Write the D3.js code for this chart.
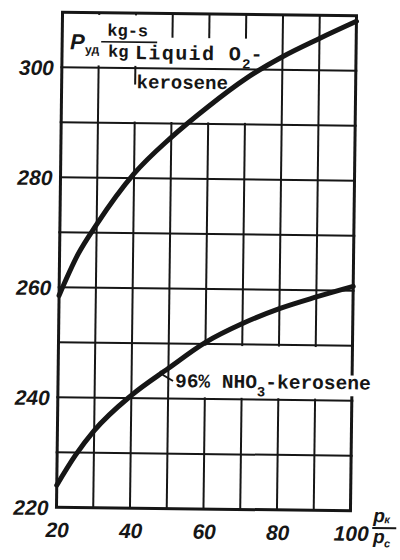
<!DOCTYPE html>
<html>
<head>
<meta charset="utf-8">
<script src="https://cdn.jsdelivr.net/npm/d3@7"></script>
<style>
  html, body { margin: 0; padding: 0; background: #fff; }
  svg { display: block; }
</style>
</head>
<body>
<div id="chart"></div>
<script>
// ---- data ----
const pressureRatio = [20, 25, 30, 40, 50, 60, 70, 80, 90, 100];
const o2Kerosene   = [258.5, 266, 271.5, 280.8, 287.5, 293.2, 298.3, 302.4, 305.8, 309];
const hno3Kerosene = [224, 229.5, 234, 240.5, 245.5, 250.3, 253.8, 256.6, 258.8, 260.8];
const xTicks = [20, 40, 60, 80, 100];
const yTicks = [220, 240, 260, 280, 300];
const xGrid = [20, 30, 40, 50, 60, 70, 80, 90, 100];
const yGrid = [220, 230, 240, 250, 260, 270, 280, 290, 300, 310];
const seriesLabels = ["Liquid O", "2", "-", "kerosene", "96% NHO", "3", "-kerosene"];

const W = 400, H = 560;
const svg = d3.select("#chart").append("svg").attr("width", W).attr("height", H);
svg.append("rect").attr("width", W).attr("height", H).attr("fill", "#fff");

const x = d3.scaleLinear().domain([20, 100]).range([59.5, 353.5]);
const y = d3.scaleLinear().domain([220, 310]).range([509, 14]);

const ink = "#161616";
// whole scan is slightly rotated
const g = svg.append("g").attr("transform", "rotate(0.7,206,261)");

// vertical grid lines
g.append("g").selectAll("line").data(xGrid).join("line")
  .attr("x1", d => x(d)).attr("x2", d => x(d))
  .attr("y1", y(310)).attr("y2", y(220))
  .attr("stroke", ink)
  .attr("stroke-width", d => (d === 20 || d === 100) ? 3 : 2);

// white patches behind label texts (grid interrupted in the original)
const masks = [
  {x0: 20.6, x1: 48, y0: 300.4, y1: 309.6},
  {x0: 45, x1: 77, y0: 290.3, y1: 305.6},
  {x0: 38.6, x1: 45, y0: 290.3, y1: 297},
  {x0: 52, x1: 99.4, y0: 240.3, y1: 249.7},
  {x0: 99.4, x1: 104, y0: 240.8, y1: 244.6}
];
g.append("g").selectAll("rect").data(masks).join("rect")
  .attr("x", d => x(d.x0)).attr("width", d => x(d.x1) - x(d.x0))
  .attr("y", d => y(d.y1)).attr("height", d => y(d.y0) - y(d.y1))
  .attr("fill", "#fff");

// horizontal grid lines
g.append("g").selectAll("line").data(yGrid).join("line")
  .attr("x1", x(20) - 1.5).attr("x2", x(100) + 1.5)
  .attr("y1", d => y(d)).attr("y2", d => y(d))
  .attr("stroke", ink)
  .attr("stroke-width", d => (d === 220 || d === 310) ? 3 : 2);

// curves
const line = d3.line().x((d, i) => x(pressureRatio[i])).y(d => y(d)).curve(d3.curveMonotoneX);
[o2Kerosene, hno3Kerosene].forEach(s => {
  g.append("path").attr("d", line(s)).attr("fill", "none")
    .attr("stroke", ink).attr("stroke-width", 5).attr("stroke-linecap", "round");
});

// tick labels
const tickFont = "'Liberation Sans', Arial, sans-serif";
g.append("g").selectAll("text").data(yTicks).join("text")
  .attr("x", x(20) - 8).attr("y", d => y(d) + 8)
  .attr("text-anchor", "end")
  .attr("font-family", tickFont).attr("font-style", "italic").attr("font-weight", "bold")
  .attr("font-size", 21).attr("fill", ink)
  .text(d => d);
g.append("g").selectAll("text").data(xTicks).join("text")
  .attr("x", d => x(d) + 1).attr("y", y(220) + 30)
  .attr("text-anchor", "middle")
  .attr("font-family", tickFont).attr("font-style", "italic").attr("font-weight", "bold")
  .attr("font-size", 21).attr("fill", ink)
  .text(d => d);

// y axis title: P_уд  kg-s / kg
const yt = g.append("g").attr("fill", ink).attr("font-family", tickFont);
yt.append("text").attr("x", x(20) + 8).attr("y", y(310) + 37)
  .attr("font-style", "italic").attr("font-weight", "bold").attr("font-size", 22)
  .text("P");
yt.append("text").attr("x", x(20) + 23).attr("y", y(310) + 41)
  .attr("font-weight", "bold").attr("font-size", 12)
  .text("уд");
const mono = "'Liberation Mono', 'DejaVu Sans Mono', monospace";
yt.append("text").attr("x", x(20) + 45).attr("y", y(310) + 23)
  .attr("font-family", mono).attr("font-weight", "bold").attr("font-size", 17)
  .text("kg-s");
yt.append("line").attr("x1", x(20) + 39).attr("x2", x(20) + 95)
  .attr("y1", y(310) + 29).attr("y2", y(310) + 29)
  .attr("stroke", ink).attr("stroke-width", 1.6);
yt.append("text").attr("x", x(20) + 46).attr("y", y(310) + 44)
  .attr("font-family", mono).attr("font-weight", "bold").attr("font-size", 17)
  .text("kg");

// series label 1
const t1 = g.append("text").attr("x", x(20) + 73).attr("y", y(310) + 46)
  .attr("font-family", mono).attr("font-weight", "bold").attr("font-size", 20).attr("fill", ink);
t1.append("tspan").attr("letter-spacing", 1.4).text(seriesLabels[0]);
t1.append("tspan").attr("dy", 8).attr("font-size", 14).text(seriesLabels[1]);
t1.append("tspan").attr("dy", -8).text(seriesLabels[2]);
g.append("text").attr("x", x(20) + 75).attr("y", y(310) + 75)
  .attr("font-family", mono).attr("font-weight", "bold").attr("font-size", 19).attr("fill", ink)
  .text(seriesLabels[3]);

// series label 2
const lx = 176.5, ly = 387.5;
const t2 = g.append("text").attr("x", lx).attr("y", ly)
  .attr("font-family", mono).attr("font-weight", "bold").attr("font-size", 19.5).attr("fill", ink);
t2.append("tspan").text(seriesLabels[4]);
t2.append("tspan").attr("dy", 8).attr("font-size", 14).text(seriesLabels[5]);
t2.append("tspan").attr("dy", -8).text(seriesLabels[6]);
// leader to curve
g.append("path")
  .attr("d", `M${lx - 2},${ly - 6} L${lx - 12},${ly - 12} L${lx - 15},${ly - 16}`)
  .attr("fill", "none").attr("stroke", ink).attr("stroke-width", 1.8);

// x axis title p_к / p_c
const xt = g.append("g").attr("fill", ink).attr("font-family", tickFont)
  .attr("font-style", "italic").attr("font-weight", "bold");
xt.append("text").attr("x", x(100) + 23).attr("y", y(220) + 11).attr("font-size", 19).text("p");
xt.append("text").attr("x", x(100) + 34).attr("y", y(220) + 12).attr("font-size", 11).text("к");
xt.append("line").attr("x1", x(100) + 22).attr("x2", x(100) + 46)
  .attr("y1", y(220) + 17).attr("y2", y(220) + 17).attr("stroke", ink).attr("stroke-width", 2);
xt.append("text").attr("x", x(100) + 23).attr("y", y(220) + 32).attr("font-size", 19).text("p");
xt.append("text").attr("x", x(100) + 34).attr("y", y(220) + 36).attr("font-size", 11).text("c");
</script>
</body>
</html>
